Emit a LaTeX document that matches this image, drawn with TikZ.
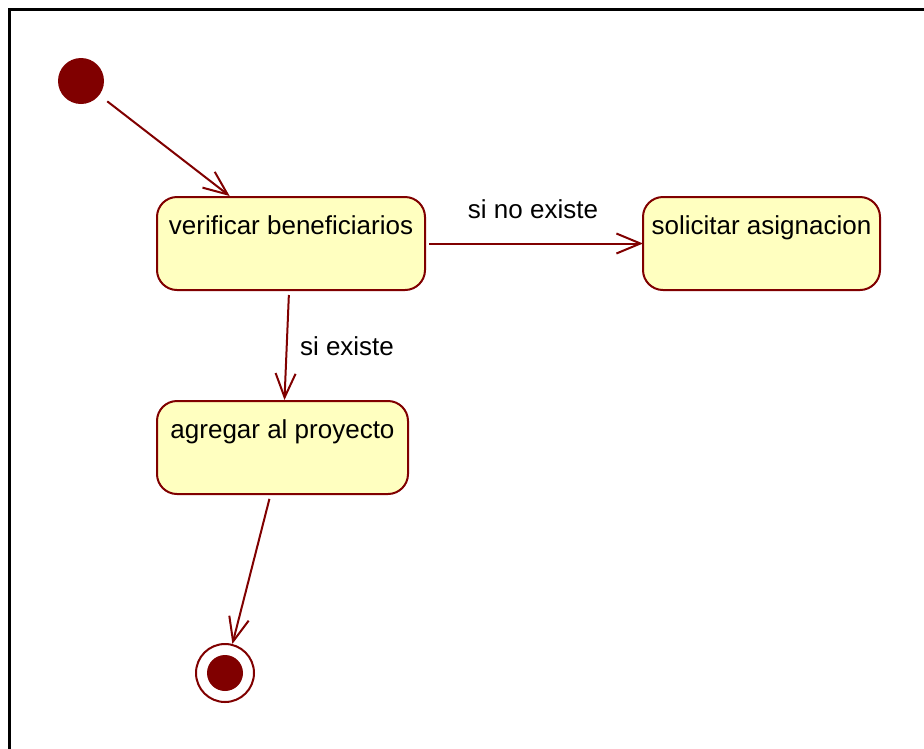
\documentclass[tikz,border=0pt]{standalone}
\usepackage{fontspec}
\setmainfont{Liberation Sans}
\usetikzlibrary{arrows.meta}
\definecolor{umlred}{HTML}{800000}
\definecolor{umlfill}{HTML}{FFFFC0}
\begin{document}
\begin{tikzpicture}[x=1pt,y=-1pt,
  every node/.style={font=\fontsize{26}{30}\selectfont},
  state/.style={draw=umlred, fill=umlfill, line width=2pt, rounded corners=20pt,
    inner sep=0pt, text height=37pt, text depth=56pt},
  flow/.style={draw=umlred, line width=2pt,
    -{Straight Barb[length=24pt,width=20pt,line width=2pt]}},
  guard/.style={anchor=base, text=black}]
  \useasboundingbox (0,0) rectangle (924,748);
  \begin{scope}
    \clip (0,0) rectangle (924,748);
    \draw[line width=3pt] (9.5,9.5) rectangle (940,770);
  \end{scope}

  % initial and final pseudo-states
  \node[circle, fill=umlred, minimum size=46pt, inner sep=0pt] (init) at (81,81) {};
  \node[circle, draw=umlred, line width=2pt, fill=white, minimum size=58pt, inner sep=0pt] (final) at (225,673) {};
  \node[circle, fill=umlred, minimum size=36pt, inner sep=0pt] (finaldot) at (225,673) {};

  % activity states
  \node[state, minimum width=268pt] (verif) at (291,196) [anchor=north] {verificar beneficiarios};
  \node[state, minimum width=237pt] (solic) at (761.5,196) [anchor=north] {solicitar asignacion};
  \node[state, minimum width=251pt] (agreg) at (282.5,400) [anchor=north] {agregar al proyecto};

  % transitions
  \draw[flow, shorten <=10pt] (init) -- (verif);
  \draw[flow, shorten <=3pt, shorten >=-1pt] (verif) -- (solic);
  \draw[flow, shorten <=4pt] (verif) -- (agreg);
  \draw[flow, shorten <=4pt] (agreg) -- (final);

  % guards
  \node[guard] (gno) at (533,218) {si no existe};
  \node[guard] (gyes) at (347,355) {si existe};
\end{tikzpicture}
\end{document}
